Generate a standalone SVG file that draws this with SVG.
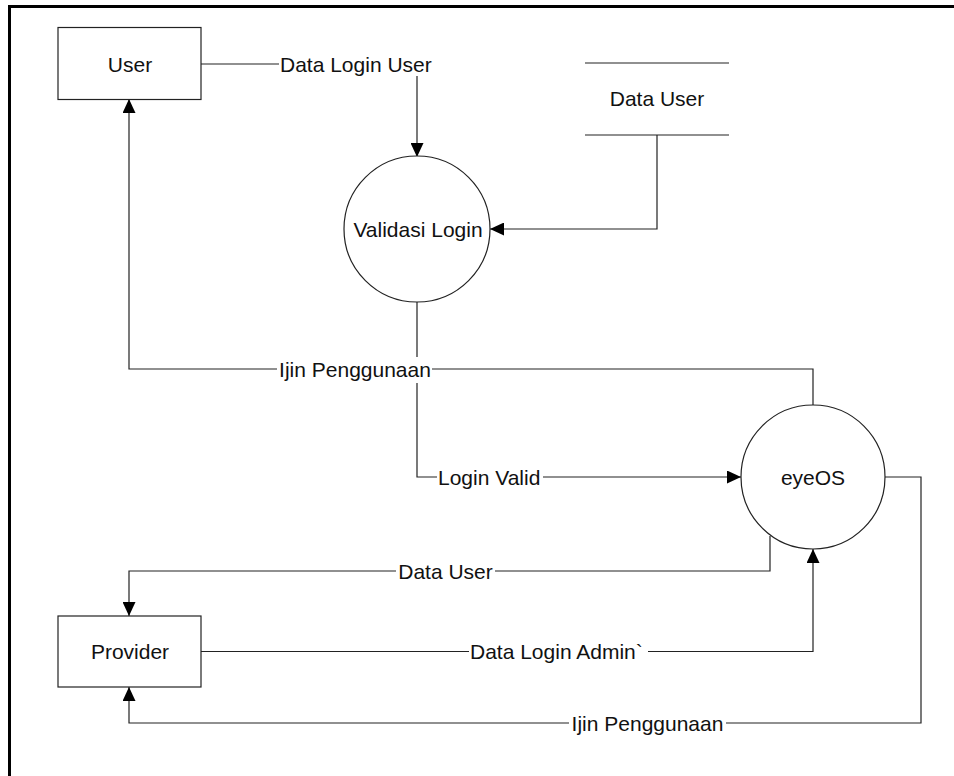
<svg xmlns="http://www.w3.org/2000/svg" width="954" height="776" viewBox="0 0 954 776">
<style>
.shape{fill:#fff;stroke:#222;stroke-width:1.2}
.ln{fill:none;stroke:#222;stroke-width:1.2}
.txt{font-family:"Liberation Sans",Arial,sans-serif;font-size:21px;fill:#111}
.m{text-anchor:middle}
.bg{fill:#fff;stroke:none}
</style>
<defs>
<marker id="arr" markerUnits="userSpaceOnUse" viewBox="0 0 14 13" markerWidth="14" markerHeight="13" refX="14" refY="6.5" orient="auto">
<path d="M0,0 L14,6.5 L0,13 z" fill="#000"/>
</marker>
</defs>
<rect width="954" height="776" fill="#fff"/>
<path d="M9.5,776 V6.5 H954" fill="none" stroke="#000" stroke-width="3"/>

<g id="connectors">
<path class="ln" d="M201,64 H279"/>
<path class="ln" d="M417,76 V157" marker-end="url(#arr)"/>
<path class="ln" d="M657,135 V229 H490" marker-end="url(#arr)"/>
<path class="ln" d="M417,301 V477 H437"/>
<path class="ln" d="M543,477 H741" marker-end="url(#arr)"/>
<path class="ln" d="M813,405 V369 H129 V99" marker-end="url(#arr)"/>
<path class="ln" d="M770,536 V571 H129 V616" marker-end="url(#arr)"/>
<path class="ln" d="M201,651.5 H469"/>
<path class="ln" d="M648,651.5 H813 V549" marker-end="url(#arr)"/>
<path class="ln" d="M885,477 H921 V723 H129 V687" marker-end="url(#arr)"/>
<rect class="bg" x="277" y="357" width="155" height="26"/>
<rect class="bg" x="396" y="559" width="99" height="25"/>
<rect class="bg" x="569" y="711" width="157" height="25"/>
<text class="txt" x="280" y="72">Data Login User</text>
<text class="txt m" x="355" y="376.5">Ijin Penggunaan</text>
<text class="txt" x="438" y="484.5">Login Valid</text>
<text class="txt m" x="445.5" y="578.5">Data User</text>
<text class="txt" x="470" y="659">Data Login Admin`</text>
<text class="txt m" x="647.5" y="730.5">Ijin Penggunaan</text>
</g>

<g id="user">
<rect class="shape" x="58" y="27.5" width="143" height="72"/>
<text class="txt m" x="130" y="71.5">User</text>
</g>

<g id="data-user-store">
<path class="ln" d="M585,63 H729 M585,135 H729"/>
<text class="txt m" x="657" y="106">Data User</text>
</g>

<g id="validasi-login">
<circle class="shape" cx="417" cy="229" r="73"/>
<text class="txt m" x="418" y="236.5">Validasi Login</text>
</g>

<g id="eyeos">
<circle class="shape" cx="813" cy="477" r="72"/>
<text class="txt m" x="813" y="484.5">eyeOS</text>
</g>

<g id="provider">
<rect class="shape" x="58" y="616" width="143" height="71"/>
<text class="txt m" x="130" y="659">Provider</text>
</g>
</svg>
